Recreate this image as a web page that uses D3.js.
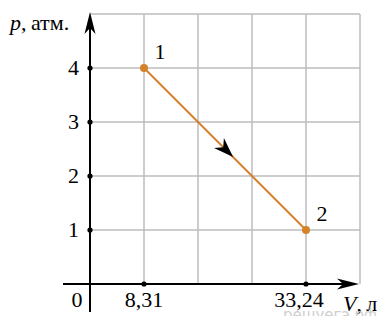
<!DOCTYPE html>
<html><head><meta charset="utf-8">
<script src="https://cdn.jsdelivr.net/npm/d3@7"></script>
<style>body{margin:0;background:#fff}svg{display:block}
svg text.sf{font-family:"Liberation Serif",serif !important}
</style>
</head><body>
<script>
const vStep = 8.31;
const vGridCount = 5;
const pMax = 5;
const yTickValues = [1, 2, 3, 4];
const xTickValues = [8.31, 33.24];
const xTickLabels = ["8,31", "33,24"];
const pointIds = ["1", "2"];
const pointV = [8.31, 33.24];
const pointP = [4, 1];

const W = 383, H = 316;
const FONT = "Liberation Serif";
const FS = 22;
const svg = d3.select("body").append("svg").attr("width", W).attr("height", H)
  .attr("font-family", FONT).style("font-family", FONT);
const x = d3.scaleLinear().domain([0, vStep * vGridCount]).range([90, 360]);
const y = d3.scaleLinear().domain([0, pMax]).range([284, 14]);
const orange = "#d5822a";

function txt(sel) {
  return sel.attr("class", "sf").attr("font-family", FONT).style("font-family", FONT).attr("font-size", FS);
}

// grid
const vGrid = d3.range(1, vGridCount + 1).map(i => i * vStep);
const pGrid = d3.range(1, pMax + 1);
svg.append("g").selectAll("line").data(vGrid).join("line")
  .attr("x1", d => x(d)).attr("x2", d => x(d)).attr("y1", y(0)).attr("y2", y(pMax))
  .attr("stroke", "#bdbdbd").attr("stroke-width", 1.5);
svg.append("g").selectAll("line").data(pGrid).join("line")
  .attr("x1", x(0)).attr("x2", x(vStep * vGridCount)).attr("y1", d => y(d)).attr("y2", d => y(d))
  .attr("stroke", "#bdbdbd").attr("stroke-width", 1.5);

// axes
svg.append("line").attr("x1", x(0)).attr("x2", x(0)).attr("y1", 312).attr("y2", 20)
  .attr("stroke", "#000").attr("stroke-width", 2);
svg.append("line").attr("x1", 63).attr("x2", 352).attr("y1", y(0)).attr("y2", y(0))
  .attr("stroke", "#000").attr("stroke-width", 2);
svg.append("path").attr("d", "M0,0 L-5.5,22 L0,16 L5.5,22 Z")
  .attr("transform", `translate(${x(0)},12)`).attr("fill", "#000");
svg.append("path").attr("d", "M0,0 L-5.5,22 L0,16 L5.5,22 Z")
  .attr("transform", `translate(359,${y(0)}) rotate(90)`).attr("fill", "#000");

// tick dots
svg.append("g").selectAll("circle").data(yTickValues).join("circle")
  .attr("cx", x(0)).attr("cy", d => y(d)).attr("r", 2.6).attr("fill", "#000");
svg.append("g").selectAll("circle").data(xTickValues).join("circle")
  .attr("cx", d => x(d)).attr("cy", y(0)).attr("r", 2.6).attr("fill", "#000");

// tick labels
txt(svg.append("g").selectAll("text").data(yTickValues).join("text"))
  .attr("x", 79).attr("y", d => y(d)).attr("dy", "0.34em").attr("text-anchor", "end")
  .text(d => d);
txt(svg.append("g").selectAll("text").data(xTickValues).join("text"))
  .attr("x", (d, i) => x(d) - (i === 1 ? 7 : 0)).attr("y", 307).attr("text-anchor", "middle")
  .text((d, i) => xTickLabels[i]);
txt(svg.append("text")).attr("x", 77).attr("y", 307).attr("text-anchor", "middle").text("0");

// axis titles
const yt = txt(svg.append("text")).attr("x", 10).attr("y", 30);
yt.append("tspan").attr("font-style", "italic").text("p");
yt.append("tspan").text(",\u2009атм.");
const xt = txt(svg.append("text")).attr("x", 343).attr("y", 311);
xt.append("tspan").attr("font-style", "italic").text("V");
xt.append("tspan").text(",\u2009л");

// watermark
svg.append("text").attr("x", 283).attr("y", 320).attr("font-family", "DejaVu Sans").style("font-family", "DejaVu Sans")
  .attr("font-size", 15).attr("fill", "#c4c4c4").attr("opacity", 0.8).text("решуегэ.рф");

// process line
const pts = pointV.map((v, i) => [x(v), y(pointP[i])]);
svg.append("line").attr("x1", pts[0][0]).attr("y1", pts[0][1]).attr("x2", pts[1][0]).attr("y2", pts[1][1])
  .attr("stroke", orange).attr("stroke-width", 2);
const t = 0.55;
const ax = pts[0][0] + t * (pts[1][0] - pts[0][0]);
const ay = pts[0][1] + t * (pts[1][1] - pts[0][1]);
const ang = Math.atan2(pts[1][1] - pts[0][1], pts[1][0] - pts[0][0]) * 180 / Math.PI;
svg.append("path").attr("d", "M0,0 L-20,-7 L-14,0 L-20,7 Z")
  .attr("transform", `translate(${ax},${ay}) rotate(${ang})`).attr("fill", "#000");

svg.append("g").selectAll("circle").data(pts).join("circle")
  .attr("cx", d => d[0]).attr("cy", d => d[1]).attr("r", 4).attr("fill", orange);
txt(svg.append("g").selectAll("text").data(pts).join("text"))
  .attr("x", d => d[0] + 16).attr("y", d => d[1] - 9).attr("text-anchor", "middle")
  .text((d, i) => pointIds[i]);
</script>
</body></html>
